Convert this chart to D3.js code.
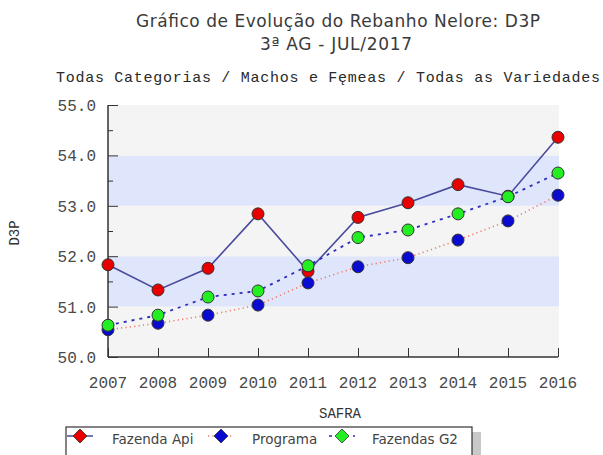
<!DOCTYPE html>
<html>
<head>
<meta charset="utf-8">
<script src="https://cdn.jsdelivr.net/npm/d3@7"></script>
<style>
  body { margin: 0; background: #fff; }
  svg { display: block; }
</style>
</head>
<body>
<div id="chart"></div>
<script>
const width = 603, height = 455;

// data
const years = [2007, 2008, 2009, 2010, 2011, 2012, 2013, 2014, 2015, 2016];
const fazendaApi = [51.83, 51.33, 51.76, 52.84, 51.70, 52.77, 53.06, 53.42, 53.19, 54.36];
const programa = [50.54, 50.67, 50.83, 51.03, 51.47, 51.79, 51.97, 52.32, 52.70, 53.21];
const fazendasG2 = [50.63, 50.83, 51.19, 51.31, 51.81, 52.37, 52.52, 52.84, 53.18, 53.65];
const yTicks = [50, 51, 52, 53, 54, 55];
const seriesNames = ["Fazenda Api", "Programa", "Fazendas G2"];

const series = [
    { name: seriesNames[0], values: fazendaApi, fill: "#e80000", line: "#4a4a9c", dash: null, lw: 1.6 },
    { name: seriesNames[1], values: programa, fill: "#0a0ad0", line: "#f07a6a", dash: "1.2,3.2", lw: 1.6 },
    { name: seriesNames[2], values: fazendasG2, fill: "#22ee22", line: "#2c2cc0", dash: "3,5", lw: 1.8 }
];

const monoFont = "Liberation Mono";
const sansFont = "DejaVu Sans";

const svg = d3.select("#chart").append("svg")
    .attr("width", width)
    .attr("height", height);

const x = d3.scalePoint().domain(years).range([108, 558]);
const y = d3.scaleLinear().domain([50, 55]).range([357, 105]);

// titles
svg.append("text")
    .attr("x", 136).attr("y", 27)
    .attr("textLength", 404)
    .style("font-family", sansFont)
    .style("font-size", "17px")
    .attr("fill", "#3a3a3a")
    .text("Gráfico de Evolução do Rebanho Nelore: D3P");
svg.append("text")
    .attr("x", 260).attr("y", 50)
    .attr("textLength", 152)
    .style("font-family", sansFont)
    .style("font-size", "17px")
    .attr("fill", "#3a3a3a")
    .text("3ª AG - JUL/2017");
svg.append("text")
    .attr("x", 56).attr("y", 82)
    .attr("textLength", 544)
    .style("font-family", monoFont)
    .style("font-size", "15px")
    .attr("fill", "#2a2a2a")
    .text("Todas Categorias / Machos e Fęmeas / Todas as Variedades");

// background bands
const bands = d3.range(50, 55);
svg.selectAll(".band")
    .data(bands)
    .enter()
    .append("rect")
    .attr("class", "band")
    .attr("x", x(years[0]))
    .attr("width", x(years[years.length - 1]) - x(years[0]) + 1)
    .attr("y", function (d) { return y(d + 1); })
    .attr("height", function (d) { return y(d) - y(d + 1); })
    .attr("fill", function (d) { return (d % 2 === 1) ? "#dfe6fb" : "#f4f4f4"; });

// axes
const yAxis = svg.append("g")
    .attr("transform", "translate(" + x(years[0]) + ",0)")
    .call(d3.axisRight(y).tickValues(d3.range(50, 55.01, 0.5)).tickSize(10).tickFormat(""));
yAxis.selectAll(".tick line")
    .attr("x2", function (d) { return Math.abs(d - Math.round(d)) < 0.01 ? 10 : 5; })
    .attr("stroke", "#333");
yAxis.select(".domain").attr("stroke", "#333").attr("stroke-width", 1.5).attr("d", "M0," + y(55) + "V" + y(50));

svg.append("g").selectAll("text")
    .data(yTicks)
    .enter()
    .append("text")
    .attr("x", 96)
    .attr("y", function (d) { return y(d) + 6; })
    .attr("text-anchor", "end")
    .style("font-family", monoFont)
    .style("font-size", "16px")
    .attr("fill", "#4a4a4a")
    .text(function (d) { return d.toFixed(1); });

const xAxis = svg.append("g")
    .attr("transform", "translate(0," + y(50) + ")")
    .call(d3.axisTop(x).tickSize(9).tickFormat(""));
xAxis.selectAll(".tick line").attr("stroke", "#333");
xAxis.select(".domain").attr("stroke", "#333").attr("stroke-width", 1.5).attr("d", "M" + x(years[0]) + ",0H" + x(years[years.length - 1]));

svg.append("g").selectAll("text")
    .data(years)
    .enter()
    .append("text")
    .attr("x", function (d) { return x(d); })
    .attr("y", 388)
    .attr("text-anchor", "middle")
    .style("font-family", monoFont)
    .style("font-size", "16px")
    .attr("fill", "#4a4a4a")
    .text(function (d) { return d; });

// axis titles
svg.append("text")
    .attr("x", 340).attr("y", 418)
    .attr("text-anchor", "middle")
    .style("font-family", monoFont)
    .style("font-size", "14px")
    .attr("fill", "#333")
    .text("SAFRA");
svg.append("text")
    .attr("transform", "translate(19,233) rotate(-90)")
    .attr("text-anchor", "middle")
    .style("font-family", monoFont)
    .style("font-size", "14px")
    .attr("fill", "#333")
    .text("D3P");

// lines
const line = d3.line()
    .x(function (d, i) { return x(years[i]); })
    .y(function (d) { return y(d); });

svg.selectAll(".series-line")
    .data(series)
    .enter()
    .append("path")
    .attr("class", "series-line")
    .attr("d", function (d) { return line(d.values); })
    .attr("fill", "none")
    .attr("stroke", function (d) { return d.line; })
    .attr("stroke-width", function (d) { return d.lw; })
    .attr("stroke-dasharray", function (d) { return d.dash; });

// markers
series.forEach(function (s) {
    svg.append("g").selectAll("circle")
        .data(s.values)
        .enter()
        .append("circle")
        .attr("cx", function (d, i) { return x(years[i]); })
        .attr("cy", function (d) { return y(d); })
        .attr("r", 6)
        .attr("fill", s.fill)
        .attr("stroke", "#333")
        .attr("stroke-width", 1);
});

// legend
const legend = svg.append("g");
legend.append("rect")
    .attr("x", 70).attr("y", 432)
    .attr("width", 411).attr("height", 40)
    .attr("fill", "#c8c8c8");
legend.append("rect")
    .attr("x", 66).attr("y", 427)
    .attr("width", 406).attr("height", 40)
    .attr("fill", "#fff")
    .attr("stroke", "#333")
    .attr("stroke-width", 1.2);

const legendX = [80, 221, 342];
const textX = [112, 252, 372];
const ly = 436;
series.forEach(function (s, i) {
    const cx = legendX[i];
    legend.append("line")
        .attr("x1", cx - 13).attr("x2", cx + 13)
        .attr("y1", ly).attr("y2", ly)
        .attr("stroke", s.line)
        .attr("stroke-width", 1.5)
        .attr("stroke-dasharray", s.dash);
    legend.append("path")
        .attr("d", "M" + cx + "," + (ly - 7) + "L" + (cx + 7) + "," + ly + "L" + cx + "," + (ly + 7) + "L" + (cx - 7) + "," + ly + "Z")
        .attr("fill", s.fill)
        .attr("stroke", "#333")
        .attr("stroke-width", 0.8);
    legend.append("text")
        .attr("x", textX[i]).attr("y", 444)
        .style("font-family", sansFont)
        .style("font-size", "13.5px")
        .attr("fill", "#444")
        .text(s.name);
});
</script>
</body>
</html>
